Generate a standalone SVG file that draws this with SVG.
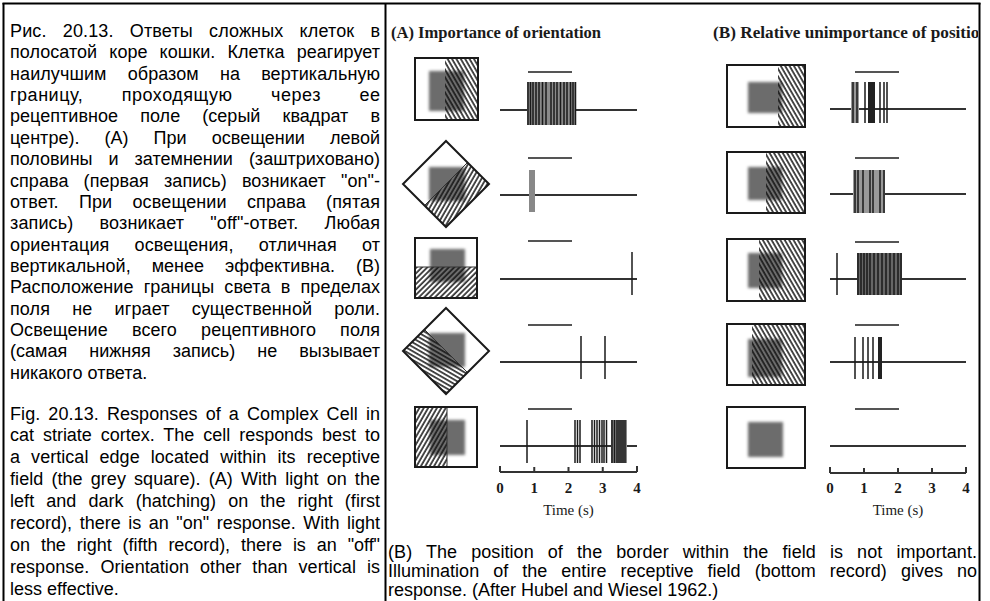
<svg xmlns="http://www.w3.org/2000/svg" width="990" height="601" viewBox="0 0 990 601">
<defs>
<style>
.t{font-family:"Liberation Sans",Arial,sans-serif;font-size:18px;fill:#000}
.fr{fill:none;stroke:#1a1a1a;stroke-width:2}
.rf{fill:#6c6c6c;filter:url(#blur)}
.ttl{font-family:"Liberation Serif","Times New Roman",serif;font-weight:bold;font-size:16px;fill:#1a1a1a}
.ax{font-family:"Liberation Serif","Times New Roman",serif;font-size:15px;fill:#1a1a1a;text-anchor:middle}
.num{font-weight:bold}
.base{stroke:#333;stroke-width:2;fill:none}
.stim{stroke:#555;stroke-width:2}
.sp{stroke:#1a1a1a;stroke-width:1.5}
.edge{stroke:#333;stroke-width:1}
.bd{stroke:#000;stroke-width:2;fill:none}
</style>
<filter id="blur" x="-20%" y="-20%" width="140%" height="140%"><feGaussianBlur stdDeviation="1.6"/></filter>
<pattern id="hb" patternUnits="userSpaceOnUse" width="3.8" height="10" patternTransform="rotate(-30)"><line x1="1" y1="-1" x2="1" y2="11" stroke="#111" stroke-width="1.5"/></pattern>
<pattern id="hf" patternUnits="userSpaceOnUse" width="3.8" height="10" patternTransform="rotate(45)"><line x1="1" y1="-1" x2="1" y2="11" stroke="#111" stroke-width="1.5"/></pattern>
<pattern id="hs" patternUnits="userSpaceOnUse" width="3.8" height="10" patternTransform="rotate(30)"><line x1="1" y1="-1" x2="1" y2="11" stroke="#111" stroke-width="1.5"/></pattern>
<pattern id="hsh" patternUnits="userSpaceOnUse" width="3.8" height="10" patternTransform="rotate(-60)"><line x1="1" y1="-1" x2="1" y2="11" stroke="#111" stroke-width="1.5"/></pattern>
<clipPath id="rc"><rect x="386" y="3" width="592" height="598"/></clipPath>
</defs>
<rect width="990" height="601" fill="#fff"/>

<g id="frame">
<line class="bd" x1="2.5" y1="3.5" x2="980.5" y2="3.5"/>
<line class="bd" x1="3.5" y1="3" x2="3.5" y2="601"/>
<line class="bd" x1="385.5" y1="3" x2="385.5" y2="601"/>
<line class="bd" x1="979.5" y1="3" x2="979.5" y2="601"/>
</g>

<g id="text-ru" class="t">
<text x="10" y="37" textLength="370" lengthAdjust="spacing" word-spacing="11">Рис. 20.13. Ответы сложных клеток в</text>
<text x="10" y="58.4" textLength="370" lengthAdjust="spacing" word-spacing="7">полосатой коре кошки. Клетка реагирует</text>
<text x="10" y="79.7" textLength="370" lengthAdjust="spacing" word-spacing="16">наилучшим образом на вертикальную</text>
<text x="10" y="101" textLength="370" lengthAdjust="spacing" word-spacing="33">границу, проходящую через ее</text>
<text x="10" y="122.4" textLength="370" lengthAdjust="spacing" word-spacing="17">рецептивное поле (серый квадрат в</text>
<text x="10" y="143.8" textLength="370" lengthAdjust="spacing" word-spacing="20">центре). (А) При освещении левой</text>
<text x="10" y="165.1" textLength="370" lengthAdjust="spacing" word-spacing="11">половины и затемнении (заштриховано)</text>
<text x="10" y="186.5" textLength="370" lengthAdjust="spacing" word-spacing="10">справа (первая запись) возникает "on"-</text>
<text x="10" y="207.8" textLength="370" lengthAdjust="spacing" word-spacing="15">ответ. При освещении справа (пятая</text>
<text x="10" y="229.2" textLength="370" lengthAdjust="spacing" word-spacing="21">запись) возникает "off"-ответ. Любая</text>
<text x="10" y="250.5" textLength="370" lengthAdjust="spacing" word-spacing="20">ориентация освещения, отличная от</text>
<text x="10" y="271.9" textLength="370" lengthAdjust="spacing" word-spacing="16">вертикальной, менее эффективна. (В)</text>
<text x="10" y="293.2" textLength="370" lengthAdjust="spacing" word-spacing="5">Расположение границы света в пределах</text>
<text x="10" y="314.6" textLength="370" lengthAdjust="spacing" word-spacing="17">поля не играет существенной роли.</text>
<text x="10" y="335.9" textLength="370" lengthAdjust="spacing" word-spacing="19">Освещение всего рецептивного поля</text>
<text x="10" y="357.3" textLength="370" lengthAdjust="spacing" word-spacing="17">(самая нижняя запись) не вызывает</text>
<text x="10" y="378.6">никакого ответа.</text>
</g>

<g id="text-en" class="t">
<text x="10" y="419.5" textLength="370" lengthAdjust="spacing" word-spacing="3">Fig. 20.13. Responses of a Complex Cell in</text>
<text x="10" y="441.4" textLength="370" lengthAdjust="spacing" word-spacing="4">cat striate cortex. The cell responds best to</text>
<text x="10" y="463.3" textLength="370" lengthAdjust="spacing" word-spacing="6">a vertical edge located within its receptive</text>
<text x="10" y="485.2" textLength="370" lengthAdjust="spacing" word-spacing="3">field (the grey square). (A) With light on the</text>
<text x="10" y="507.1" textLength="370" lengthAdjust="spacing" word-spacing="7">left and dark (hatching) on the right (first</text>
<text x="10" y="529" textLength="370" lengthAdjust="spacing" word-spacing="2.5">record), there is an "on" response. With light</text>
<text x="10" y="550.9" textLength="370" lengthAdjust="spacing" word-spacing="6">on the right (fifth record), there is an "off"</text>
<text x="10" y="572.8" textLength="370" lengthAdjust="spacing" word-spacing="6">response. Orientation other than vertical is</text>
<text x="10" y="594.7">less effective.</text>
</g>

<g id="caption-b" class="t">
<text x="388" y="558" textLength="589" lengthAdjust="spacing" word-spacing="9">(B) The position of the border within the field is not important.</text>
<text x="388" y="577" textLength="589" lengthAdjust="spacing" word-spacing="9">Illumination of the entire receptive field (bottom record) gives no</text>
<text x="388" y="596">response. (After Hubel and Wiesel 1962.)</text>
</g>

<g id="titles" clip-path="url(#rc)">
<text class="ttl" x="391" y="38" textLength="210" lengthAdjust="spacingAndGlyphs">(A)  Importance of orientation</text>
<text class="ttl" x="713" y="38" textLength="276" lengthAdjust="spacingAndGlyphs">(B)  Relative unimportance of position</text>
</g>

<g id="panel-a-stimuli">
<g id="a1">
<rect class="rf" x="429" y="71" width="35" height="40"/>
<rect x="445" y="58" width="33" height="62" fill="url(#hb)"/>
<rect class="fr" x="415" y="58" width="63" height="62"/>
</g>
<g id="a2">
<rect class="rf" x="429" y="167" width="36" height="34"/>
<polygon points="424.5,205.5 446,227 489,184 467.5,162.5" fill="url(#hs)"/>
<line class="edge" x1="424.5" y1="205.5" x2="467.5" y2="162.5"/>
<polygon class="fr" points="446,141 489,184 446,227 403,184"/>
</g>
<g id="a3">
<rect class="rf" x="430" y="249" width="35" height="33"/>
<rect x="415" y="267" width="62" height="31" fill="url(#hf)"/>
<line class="edge" x1="415" y1="267" x2="477" y2="267"/>
<rect class="fr" x="415" y="238" width="62" height="60"/>
</g>
<g id="a4">
<rect class="rf" x="429" y="333" width="36" height="34"/>
<polygon points="424.5,329.5 467.5,372.5 446,394 403,351" fill="url(#hsh)"/>
<line class="edge" x1="424.5" y1="329.5" x2="467.5" y2="372.5"/>
<polygon class="fr" points="446,308 489,351 446,394 403,351"/>
</g>
<g id="a5">
<rect class="rf" x="430" y="420" width="35" height="35"/>
<rect x="415" y="407" width="32" height="60" fill="url(#hs)"/>
<line class="edge" x1="447" y1="407" x2="447" y2="467"/>
<rect class="fr" x="415" y="407" width="62" height="60"/>
</g>
</g>

<g id="panel-b-stimuli">
<g id="b1">
<rect class="rf" x="748" y="82" width="34" height="31"/>
<rect x="778" y="65" width="27" height="62" fill="url(#hb)"/>
<rect class="fr" x="727" y="65" width="78" height="62"/>
</g>
<g id="b2">
<rect class="rf" x="748" y="167" width="34" height="33"/>
<rect x="766" y="152" width="39" height="61" fill="url(#hb)"/>
<rect class="fr" x="727" y="152" width="78" height="61"/>
</g>
<g id="b3">
<rect class="rf" x="748" y="253" width="34" height="35"/>
<rect x="759" y="239" width="46" height="62" fill="url(#hb)"/>
<rect class="fr" x="727" y="239" width="78" height="62"/>
</g>
<g id="b4">
<rect class="rf" x="748" y="339" width="34" height="38"/>
<rect x="752" y="324" width="53" height="61" fill="url(#hb)"/>
<rect class="fr" x="727" y="324" width="78" height="61"/>
</g>
<g id="b5">
<rect class="rf" x="748" y="422" width="35" height="35"/>
<rect class="fr" x="727" y="407" width="78" height="61"/>
</g>
</g>

<g id="panel-a-records">
<g class="stim">
<line x1="528" y1="72" x2="572" y2="72"/>
<line x1="528" y1="158" x2="572" y2="158"/>
<line x1="528" y1="241" x2="572" y2="241"/>
<line x1="528" y1="325" x2="572" y2="325"/>
<line x1="528" y1="409" x2="572" y2="409"/>
</g>
<g class="base">
<line x1="500" y1="110" x2="637" y2="110"/>
<line x1="500" y1="195" x2="637" y2="195"/>
<line x1="500" y1="279" x2="637" y2="279"/>
<line x1="500" y1="362" x2="637" y2="362"/>
<line x1="500" y1="446" x2="637" y2="446"/>
</g>
<rect x="527" y="82" width="49" height="43" fill="#8a8a8a"/>
<path class="sp" d="M528 82V125M530.5 82V125M533 82V125M536 82V125M539 82V125M542.5 82V125M546 82V125M551 82V125M554 82V125M557 82V125M560.5 82V125M564 82V125M567 82V125M570.5 82V125M573 82V125M575.5 82V125"/>
<rect x="529" y="170" width="6" height="42" fill="#888"/>
<path class="sp" d="M632 252V295" stroke-width="2"/>
<path class="sp" d="M581 336V379M605 336V379"/>
<rect x="611" y="420" width="16" height="43" fill="#888"/>
<path class="sp" d="M527 420V463M575 420V463M577.5 420V463M580 420V463M592 420V463M594.5 420V463M597 420V463M599.5 420V463M602 420V463M604 420V463M606.5 420V463M612 420V463M614.5 420V463M617 420V463M619 420V463M621 420V463M623 420V463M625 420V463"/>
<path class="base" d="M500 472H637M500 466V472M534.25 467V472M568.5 467V472M602.75 467V472M637 466V472"/>
<g class="ax">
<text class="num" x="500" y="493">0</text><text class="num" x="534.25" y="493">1</text><text class="num" x="568.5" y="493">2</text><text class="num" x="602.75" y="493">3</text><text class="num" x="637" y="493">4</text>
<text x="568.5" y="515">Time (s)</text>
</g>
</g>

<g id="panel-b-records">
<g class="stim">
<line x1="855" y1="72" x2="899" y2="72"/>
<line x1="855" y1="158" x2="899" y2="158"/>
<line x1="855" y1="242" x2="899" y2="242"/>
<line x1="855" y1="325" x2="899" y2="325"/>
<line x1="855" y1="409" x2="899" y2="409"/>
</g>
<g class="base">
<line x1="830" y1="109" x2="966" y2="109"/>
<line x1="830" y1="194" x2="966" y2="194"/>
<line x1="830" y1="279" x2="966" y2="279"/>
<line x1="830" y1="362" x2="966" y2="362"/>
<line x1="830" y1="446" x2="966" y2="446"/>
</g>
<rect x="851" y="82" width="8" height="41" fill="#999"/>
<rect x="868" y="82" width="7" height="41" fill="#222"/>
<path class="sp" d="M853 82V123M857 82V123M865 82V123M880 82V123M884 82V123M887 82V123"/>
<rect x="853" y="170" width="32" height="43" fill="#999"/>
<path class="sp" d="M855 170V213M858 170V213M863 170V213M870 170V213M873 170V213M880 170V213M884 170V213"/>
<rect x="857" y="253" width="45" height="42" fill="#666"/>
<path class="sp" d="M837 253V295M858 253V295M861 253V295M864 253V295M867 253V295M870 253V295M874 253V295M878 253V295M882 253V295M886 253V295M890 253V295M894 253V295M898 253V295M901 253V295"/>
<rect x="878" y="337" width="4" height="42" fill="#222"/>
<path class="sp" d="M855 337V379M863 337V379M868 337V379M873 337V379"/>
<path class="base" d="M830 473H966M830 467V473M864 468V473M898 468V473M932 468V473M966 467V473"/>
<g class="ax">
<text class="num" x="830" y="493">0</text><text class="num" x="864" y="493">1</text><text class="num" x="898" y="493">2</text><text class="num" x="932" y="493">3</text><text class="num" x="966" y="493">4</text>
<text x="898" y="515">Time (s)</text>
</g>
</g>
</svg>
